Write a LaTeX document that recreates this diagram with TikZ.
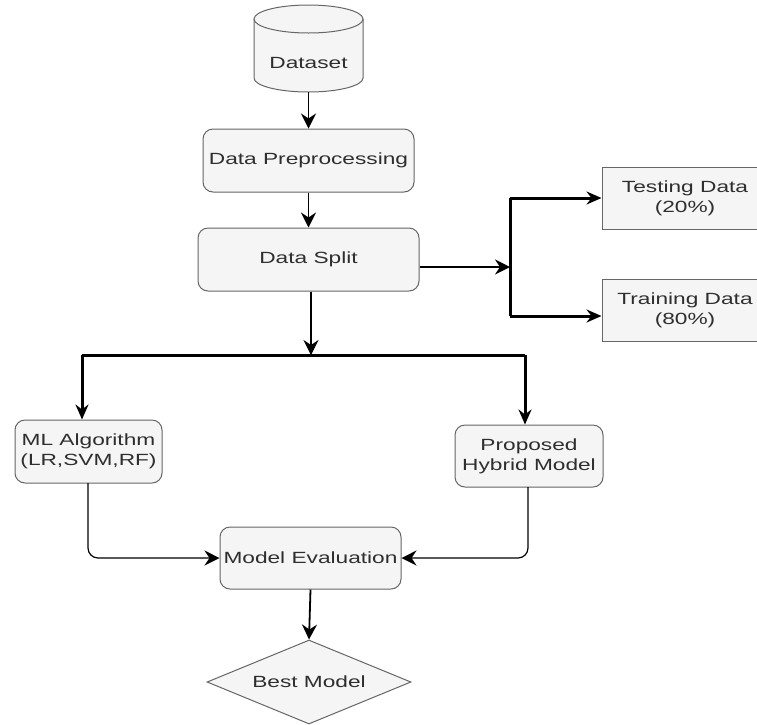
\documentclass[tikz,border=0pt]{standalone}
\usepackage{fontspec}
\setmainfont[FakeStretch=1.4]{Liberation Sans}
\usetikzlibrary{shapes.geometric,arrows.meta,calc}
\definecolor{boxfill}{HTML}{F5F5F5}
\definecolor{boxline}{HTML}{666666}
\definecolor{txt}{HTML}{2E2E2E}
\tikzset{
  lbl/.style={text=txt,font=\fontsize{16.2}{20}\selectfont,align=center,inner sep=0pt},
  rbox/.style={lbl,draw=boxline,fill=boxfill,line width=1pt,rounded corners=10pt},
  sbox/.style={lbl,draw=boxline,fill=boxfill,line width=1pt},
  dbox/.style={lbl,draw=boxline,fill=boxfill,line width=1pt,diamond,aspect=2.43},
  tip/.style={-{Stealth[length=15pt,width=15pt,inset=5pt]}},
  thin/.style={tip,line width=1.2pt,black},
  mid/.style={tip,line width=1.8pt,black},
  thick/.style={line width=3pt,black},
  thicktip/.style={-{Stealth[length=15pt,width=13pt,inset=5pt]},line width=3pt,black},
}
\begin{document}
\begin{tikzpicture}[x=1pt,y=-1pt]
\useasboundingbox (0,0) rectangle (757,724);
\clip (0,0) rectangle (757,724);
\fill[white] (0,0) rectangle (757,724);
% cylinder
\node[minimum width=109pt,minimum height=87pt,inner sep=0pt] (ds) at (308.5,48.5) {};
\path[draw=boxline,fill=boxfill,line width=1pt]
  (254,19) -- (254,78) arc[start angle=180,end angle=360,x radius=54.5,y radius=-14] -- (363,19) -- cycle;
\draw[boxline,fill=boxfill,line width=1pt] (308.5,19) ellipse[x radius=54.5,y radius=14];
\node[lbl] at (308.5,63) {Dataset};
% boxes
\node[rbox,minimum width=211pt,minimum height=63pt] (pre) at (308.5,160.5) {Data Preprocessing};
\node[rbox,minimum width=221pt,minimum height=63pt] (split) at (308.5,259.5) {Data Split};
\node[sbox,minimum width=166pt,minimum height=62pt] (test) at (685,198) {Testing Data\\(20\%)};
\node[sbox,minimum width=166pt,minimum height=62pt] (train) at (685,310) {Training Data\\(80\%)};
\node[rbox,minimum width=147pt,minimum height=63pt] (ml) at (88.5,451.5) {ML Algorithm\\(LR,SVM,RF)};
\node[rbox,minimum width=148pt,minimum height=62pt] (hyb) at (529,456) {Proposed\\Hybrid Model};
\node[rbox,minimum width=181pt,minimum height=62pt] (me) at (310.5,558) {Model Evaluation};
\node[dbox,minimum width=204pt,minimum height=84pt] (best) at (309,682) {Best Model};
% coordinates
\coordinate (b0) at (510,267);
\coordinate (b1) at (510,198);
\coordinate (b2) at (510,316);
\coordinate (j) at (311,355);
\coordinate (hl) at (82,355);
\coordinate (hr) at (525,355);
\coordinate (mlo) at (88,483);
\coordinate (hyo) at (528,487);
% connectors
\draw[mid] (ds.south) -- (pre.north);
\draw[mid] (pre.south) -- (split.north);
\draw[thin] (split.east |- b0) -- (b0);
\draw[thick] (b1) -- (b2);
\draw[thicktip] (b1) -- (test.west);
\draw[thicktip] (b2) -- (b2 -| train.west);
\draw[thin] (split.south -| j) -- (j);
\draw[thick] (hl) -- (hr);
\draw[thicktip] (hl) -- (hl |- ml.north);
\draw[thicktip] (hr) -- (hr |- hyb.north);
\draw[thin,rounded corners=10pt] (mlo) |- (me.west);
\draw[thin,rounded corners=10pt] (hyo) |- (me.east);
\draw[mid] (me.south) -- (best.north);
\end{tikzpicture}
\end{document}
